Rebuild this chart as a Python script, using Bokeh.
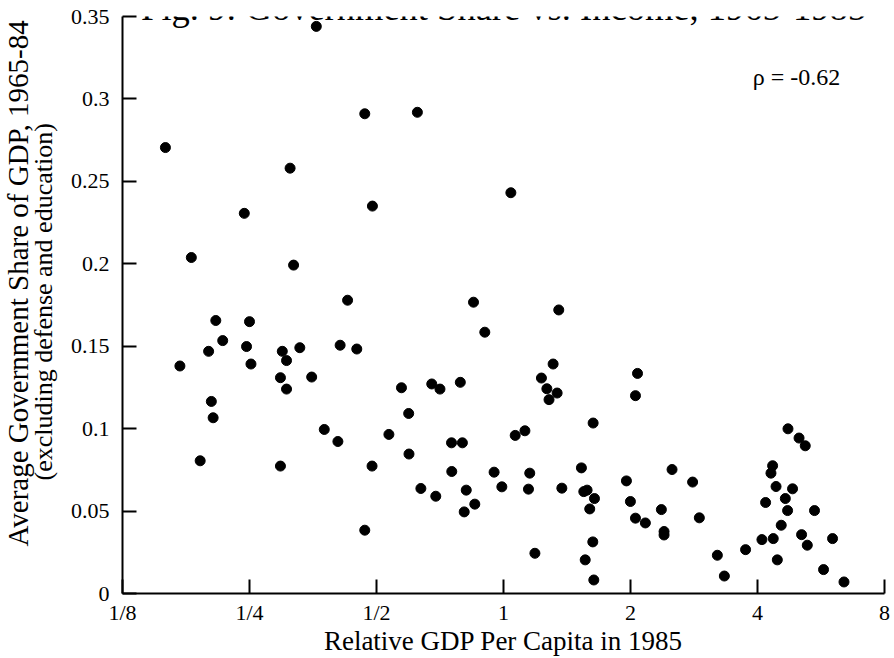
from bokeh.plotting import figure
from bokeh.models import FixedTicker, CustomJSTickFormatter, Label, Title, ColumnDataSource
from bokeh.embed import file_html
from bokeh.resources import INLINE

# Relative GDP per capita in 1985 (US = 1) and average government share of GDP, 1965-84
gdp_rel = [
    0.360, 0.469, 0.158, 0.312, 0.489, 0.243, 0.182, 0.318, 0.427, 0.625,
    1.041, 0.849, 0.208, 0.250, 0.216, 0.200, 0.246, 0.252, 0.171, 0.299,
    0.306, 0.329, 0.410, 0.449, 0.296, 0.306, 0.351, 0.203, 0.205, 0.376,
    0.405, 0.191, 0.296, 0.488, 0.469, 1.352, 0.903, 1.311, 1.230, 1.267,
    1.340, 1.282, 0.573, 0.676, 0.707, 0.790, 0.596, 0.535, 0.597, 0.753,
    0.799, 1.066, 1.124, 1.631, 0.754, 0.950, 1.154, 1.530, 0.637, 0.691,
    0.816, 0.855, 0.807, 0.991, 1.146, 1.375, 1.550, 1.578, 1.643, 1.601,
    1.628, 1.562, 1.637, 1.187, 1.956, 1.999, 2.055, 2.055, 2.078, 2.169,
    2.509, 2.807, 2.367, 2.402, 2.402, 2.912, 3.213, 3.338, 3.748, 4.098,
    4.359, 4.457, 4.181, 4.344, 4.305, 4.426, 4.724, 5.018, 5.191, 4.843,
    4.656, 4.714, 4.553, 5.460, 5.088, 5.249, 6.025, 5.736, 6.413,
]
gov_share = [
    0.344, 0.291, 0.2705, 0.258, 0.235, 0.2306, 0.2038, 0.1992, 0.1779, 0.2919,
    0.2431, 0.1767, 0.1656, 0.1649, 0.1534, 0.1469, 0.1498, 0.1392, 0.138, 0.1469,
    0.1413, 0.1491, 0.1506, 0.1483, 0.1309, 0.1240, 0.1313, 0.1165, 0.1066, 0.0995,
    0.0922, 0.0805, 0.0773, 0.0773, 0.0384, 0.172, 0.1585, 0.1392, 0.1307, 0.1242,
    0.1216, 0.1176, 0.1248, 0.1271, 0.1240, 0.1281, 0.1092, 0.0965, 0.0846, 0.0914,
    0.0914, 0.0959, 0.0987, 0.1034, 0.074, 0.0736, 0.073, 0.0762, 0.0637, 0.059,
    0.0627, 0.0542, 0.0495, 0.0647, 0.0633, 0.0639, 0.0618, 0.0627, 0.0576, 0.0513,
    0.0313, 0.0204, 0.0082, 0.0244, 0.0683, 0.0558, 0.0457, 0.12, 0.1335, 0.0428,
    0.0752, 0.0676, 0.0509, 0.0376, 0.0355, 0.0459, 0.0232, 0.0106, 0.0266, 0.0327,
    0.0333, 0.0204, 0.0552, 0.0775, 0.073, 0.0649, 0.0999, 0.0943, 0.0896, 0.0635,
    0.0576, 0.0503, 0.0414, 0.0503, 0.0357, 0.0293, 0.0333, 0.0145, 0.007,
]
x_ticks = [0.125, 0.25, 0.5, 1, 2, 4, 8]
y_ticks = [0, 0.05, 0.1, 0.15, 0.2, 0.25, 0.3, 0.35]
title_text = "Fig. 9: Government Share vs. Income, 1965-1985"
rho_text = "\u03c1 = -0.62"
y_label_main = "Average Government Share of GDP, 1965-84"
y_label_sub = "(excluding defense and education)"
x_label = "Relative GDP Per Capita in 1985"

FONT = "Liberation Serif"

p = figure(width=894, height=658, x_axis_type="log",
           x_range=(x_ticks[0], x_ticks[-1]), y_range=(y_ticks[0], y_ticks[-1]),
           output_backend="svg", toolbar_location=None,
           min_border_left=122, min_border_right=10, min_border_top=16, min_border_bottom=65)
p.outline_line_color = None
p.xgrid.visible = False
p.ygrid.visible = False
p.background_fill_color = "white"
p.border_fill_color = "white"

src = ColumnDataSource(dict(x=gdp_rel, y=gov_share))
p.scatter("x", "y", source=src, size=10, color="black")

for ax in (p.xaxis[0], p.yaxis[0]):
    ax.axis_line_width = 2
    ax.axis_line_color = "black"
    ax.major_tick_line_width = 2
    ax.major_tick_in = 14
    ax.major_tick_out = 0
    ax.minor_tick_in = 0
    ax.minor_tick_out = 0
    ax.major_label_text_font = FONT
    ax.major_label_text_font_size = "22px"
    ax.major_label_text_color = "black"
    ax.axis_label_text_font = FONT
    ax.axis_label_text_font_style = "normal"
    ax.axis_label_text_color = "black"

p.xaxis.ticker = FixedTicker(ticks=x_ticks)
p.xaxis.formatter = CustomJSTickFormatter(
    code="return tick >= 1 ? String(Math.round(tick)) : '1/' + Math.round(1/tick);")
p.xaxis.major_label_standoff = 6
p.xaxis.axis_label = x_label
p.xaxis.axis_label_text_font_size = "27px"
p.xaxis.axis_label_standoff = -2

p.yaxis.ticker = FixedTicker(ticks=y_ticks)
p.yaxis.formatter = CustomJSTickFormatter(
    code="return tick == 0 ? '0' : String(Math.round(tick*100)/100);")
p.yaxis.major_label_standoff = 13

# two-line vertical y-axis title as two stacked left titles
sub = Title(text=y_label_sub, align="left", offset=113,
            text_font=FONT, text_font_size="26px", text_font_style="normal",
            text_color="black", standoff=0)
main = Title(text=y_label_main, align="left", offset=47,
             text_font=FONT, text_font_size="29px", text_font_style="normal",
             text_color="black", standoff=0)
try:
    sub.standoff = 19
    main.standoff = -33
except Exception:
    sub.standoff = 0
    main.standoff = 0
p.add_layout(sub, "left")
p.add_layout(main, "left")

p.add_layout(Label(x=1, y=0.3555, text=title_text, text_align="center",
                   text_baseline="alphabetic", text_font=FONT,
                   text_font_size="36.5px", text_color="black"))
p.add_layout(Label(x=3.9, y=0.313, text=rho_text, text_align="left",
                   text_baseline="alphabetic", text_font=FONT,
                   text_font_size="24px", text_color="black"))

open("out.html", "w").write(file_html(p, INLINE))
